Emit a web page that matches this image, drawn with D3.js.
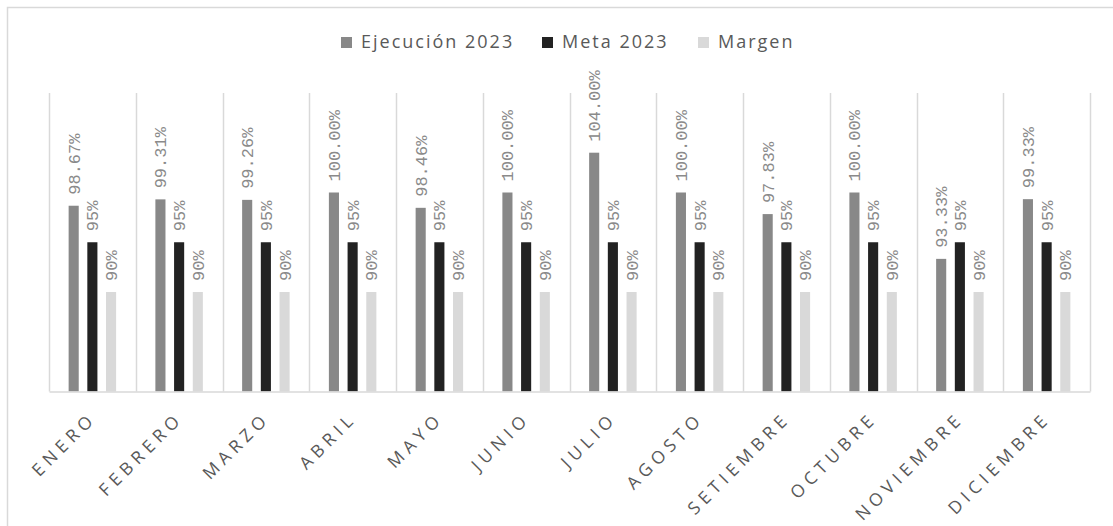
<!DOCTYPE html>
<html>
<head>
<meta charset="utf-8">
<script src="https://cdn.jsdelivr.net/npm/d3@7"></script>
<style>
  body { margin: 0; background: #fff; }
  svg { display: block; }
</style>
</head>
<body>
<div id="plot"></div>
<script>
// data
const months = ["ENERO", "FEBRERO", "MARZO", "ABRIL", "MAYO", "JUNIO", "JULIO",
  "AGOSTO", "SETIEMBRE", "OCTUBRE", "NOVIEMBRE", "DICIEMBRE"];
const ejecucion = [0.9867, 0.9931, 0.9926, 1.0, 0.9846, 1.0, 1.04, 1.0, 0.9783, 1.0, 0.9333, 0.9933];
const meta = [0.95, 0.95, 0.95, 0.95, 0.95, 0.95, 0.95, 0.95, 0.95, 0.95, 0.95, 0.95];
const margen = [0.90, 0.90, 0.90, 0.90, 0.90, 0.90, 0.90, 0.90, 0.90, 0.90, 0.90, 0.90];
const seriesNames = ["Ejecución 2023", "Meta 2023", "Margen"];

let dimensions = {
  width: 1113,
  height: 526,
  left: 49,
  right: 1090,
  top: 93,
  bottom: 391.5,
};

const colors = { "Ejecución 2023": "#888888", "Meta 2023": "#222222", "Margen": "#d9d9d9" };
const formats = { "Ejecución 2023": d3.format(".2%"), "Meta 2023": d3.format(".0%"), "Margen": d3.format(".0%") };

var series = [
  { name: seriesNames[0], values: ejecucion },
  { name: seriesNames[1], values: meta },
  { name: seriesNames[2], values: margen },
];

const svg = d3.select("#plot").append("svg")
  .attr("width", dimensions.width)
  .attr("height", dimensions.height);

// chart area border
svg.append("rect")
  .attr("x", 7.5).attr("y", 7.5)
  .attr("width", 1300).attr("height", 700)
  .attr("fill", "none").attr("stroke", "#d9d9d9").attr("stroke-width", 1.5);

// Scales
const x0 = d3.scaleBand()
  .domain(months)
  .range([dimensions.left, dimensions.right])
  .padding(0);

const x1 = d3.scaleBand()
  .domain(seriesNames)
  .range([0, x0.bandwidth()])
  .paddingInner(0.46)
  .paddingOuter(1.05);

const yScale = d3.scaleLinear()
  .domain([0.8, 1.1])
  .range([dimensions.bottom, dimensions.top]);

// vertical separators
const edges = months.map(m => x0(m)).concat([dimensions.right]);
svg.append("g").selectAll("line")
  .data(edges)
  .join("line")
  .attr("x1", d => Math.round(d) + 0.5)
  .attr("x2", d => Math.round(d) + 0.5)
  .attr("y1", dimensions.top)
  .attr("y2", dimensions.bottom)
  .attr("stroke", "#d9d9d9")
  .attr("stroke-width", 1.5);

// bars
const groups = svg.append("g").selectAll("g")
  .data(series)
  .join("g")
  .attr("fill", d => colors[d.name]);

groups.selectAll("rect")
  .data(s => s.values.map((v, i) => ({ name: s.name, month: months[i], value: v })))
  .join("rect")
  .attr("x", d => x0(d.month) + x1(d.name))
  .attr("y", d => yScale(d.value))
  .attr("width", x1.bandwidth())
  .attr("height", d => dimensions.bottom - yScale(d.value));

// data labels, rotated
groups.selectAll("text")
  .data(s => s.values.map((v, i) => ({ name: s.name, month: months[i], value: v })))
  .join("text")
  .attr("transform", d => {
    let cx = x0(d.month) + x1(d.name) + x1.bandwidth() / 2;
    let cy = yScale(d.value) - 11;
    return `translate(${cx},${cy}) rotate(-90)`;
  })
  .attr("dy", "0.35em")
  .attr("fill", "#8a8a8a")
  .style("font-family", "'Liberation Mono', 'DejaVu Sans Mono', monospace")
  .style("font-size", "17px")
  .text(d => formats[d.name](d.value));

// baseline (axis without ticks)
const xAxis = d3.axisBottom(x0).tickSize(0).tickFormat("");
const axisG = svg.append("g")
  .attr("transform", `translate(0, ${dimensions.bottom})`)
  .call(xAxis);
axisG.select(".domain").attr("stroke", "#d9d9d9").attr("stroke-width", 1.5);

// month labels at -45 degrees
svg.append("g").selectAll("text")
  .data(months)
  .join("text")
  .attr("transform", d => {
    let cx = x0(d) + x0.bandwidth() / 2 + 5;
    let cy = dimensions.bottom + 28;
    return `translate(${cx},${cy}) rotate(-45)`;
  })
  .attr("text-anchor", "end")
  .attr("fill", "#595959")
  .style("font-family", "'Open Sans', sans-serif")
  .style("font-size", "17.5px")
  .style("letter-spacing", "5px")
  .text(d => d);

// legend
const legendX = [341, 542, 698];
const legend = svg.append("g").selectAll("g")
  .data(seriesNames)
  .join("g")
  .attr("transform", (d, i) => `translate(${legendX[i]}, 37)`);
legend.append("rect")
  .attr("width", 11).attr("height", 11)
  .attr("fill", d => colors[d]);
legend.append("text")
  .attr("x", 20)
  .attr("y", 11)
  .attr("fill", "#595959")
  .style("font-family", "'Open Sans', sans-serif")
  .style("font-size", "18px")
  .style("letter-spacing", "2px")
  .text(d => d);
</script>
</body>
</html>
